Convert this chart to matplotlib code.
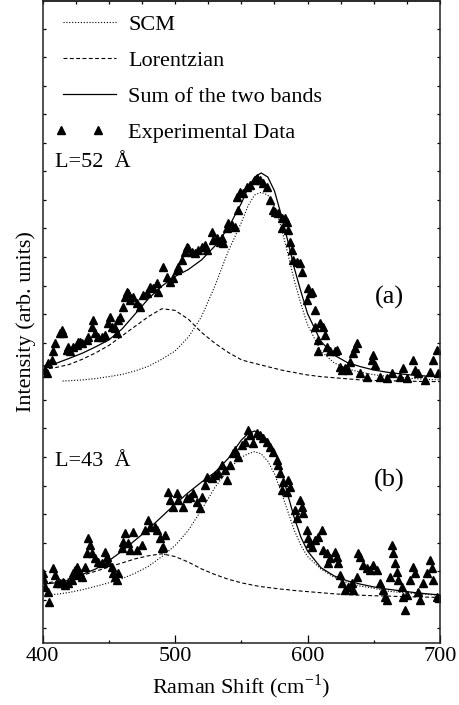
import numpy as np
import matplotlib
matplotlib.use('Agg')
import matplotlib.pyplot as plt
from matplotlib.legend_handler import HandlerLine2D

# Raman spectra of the two samples, fitted with SCM band + Lorentzian band
# spectrum (a) is offset upwards, (b) sits near the bottom

# x grid of the fitted curves (cm-1)
fit_x = [400, 410, 420, 430, 440, 450, 460, 470, 480, 490, 500, 510, 520, 530, 540, 550,
         555, 560, 565, 570, 575, 580, 585, 590, 595, 600,
         610, 620, 630, 640, 650, 660, 670, 680, 690, 700]

# ---- L=52 A ----
sum_a = [10.5, 10.6, 10.78, 10.97, 11.2, 11.45, 11.85, 12.4, 12.95, 13.4, 13.75, 14.0, 14.35, 14.85, 15.5, 16.4,
         16.95, 17.35, 17.5, 17.35, 16.85, 16.0, 15.05, 14.05, 13.2, 12.4,
         11.4, 10.9, 10.63, 10.48, 10.36, 10.28, 10.22, 10.17, 10.14, 10.12]
lor_a = [10.38, 10.45, 10.56, 10.75, 10.98, 11.25, 11.6, 11.95, 12.3, 12.58, 12.52, 12.2, 11.72, 11.33, 11.0, 10.73,
         10.66, 10.6, 10.54, 10.48, 10.42, 10.36, 10.31, 10.27, 10.22, 10.18,
         10.12, 10.08, 10.04, 10.0, 9.98, 9.97, 9.96, 9.95, 9.94, 9.94]
# SCM band of (a) starts a bit after 400
scm_a_x = [415] + fit_x[2:]
scm_a = [9.96, 9.97, 10.0, 10.05, 10.12, 10.2, 10.33, 10.5, 10.75, 11.05, 11.55, 12.3, 13.4, 14.65, 15.7,
         16.3, 16.7, 16.8, 16.7, 16.3, 15.55, 14.6, 13.6, 12.75, 12.0,
         11.05, 10.62, 10.4, 10.28, 10.19, 10.13, 10.09, 10.05, 10.02, 10.0]

exp_a_x = [401.7, 403.0, 404.3, 406.8, 408.0, 409.3, 413.1, 414.3, 415.6, 418.1, 419.4, 420.6, 423.1, 425.6,
           426.9, 428.2, 429.4, 433.2, 434.5, 437.0, 438.2, 439.5, 442.0, 444.5, 447.0, 449.6, 450.8, 452.1,
           454.6, 455.9, 457.1, 458.4, 460.9, 462.1, 463.4, 464.7, 465.9, 468.4, 471.0, 473.5, 476.0, 478.5,
           481.0, 483.5, 486.1, 487.3, 491.1, 493.6, 496.1, 498.6, 501.2, 502.4, 504.9, 507.4, 508.7, 510.0,
           512.5, 515.0, 517.5, 520.0, 522.6, 523.8, 527.6, 528.8, 531.4, 533.9, 535.1, 536.4, 538.9, 540.2,
           542.7, 545.2, 546.5, 547.7, 549.0, 551.5, 554.0, 556.5, 560.3, 561.6, 564.1, 566.6, 569.1, 571.6,
           574.2, 575.4, 577.9, 580.4, 583.0, 584.2, 580.4, 585.5, 586.7, 588.0, 589.3, 591.8, 594.3, 595.5,
           600.6, 601.8, 599.3, 603.1, 605.6, 605.6, 609.4, 611.9, 613.2, 608.1, 614.4, 608.1, 616.9, 620.7,
           622.0, 624.5, 625.7, 628.3, 630.8, 632.0, 634.6, 635.8, 637.1, 639.6, 644.6, 648.4, 649.7, 650.9,
           654.7, 659.7, 663.5, 669.8, 672.3, 674.8, 679.9, 681.1, 683.6, 688.7, 692.5, 695.0, 697.5, 698.7]
exp_a_y = [10.36, 10.24, 10.6, 10.72, 11.03, 11.33, 11.69, 11.81, 11.69, 11.09, 11.21, 11.03, 11.21, 11.27,
           11.39, 11.39, 11.33, 11.45, 11.57, 11.93, 12.17, 11.69, 11.57, 11.57, 11.63, 12.05, 12.29, 11.93,
           11.87, 11.69, 12.17, 12.29, 12.66, 13.02, 13.2, 13.14, 12.9, 13.02, 12.78, 12.66, 13.08, 13.14,
           13.38, 13.32, 13.5, 13.2, 14.1, 13.74, 13.56, 13.68, 13.98, 14.1, 14.35, 14.65, 14.83, 14.77,
           14.65, 14.59, 14.71, 14.83, 14.89, 14.71, 15.37, 15.07, 15.13, 15.01, 15.13, 14.95, 15.49, 15.67,
           15.61, 15.55, 16.64, 16.16, 16.82, 16.76, 17.0, 17.06, 17.25, 17.31, 17.25, 17.12, 17.0, 16.52,
           16.16, 16.1, 16.04, 15.86, 15.86, 15.74, 15.49, 15.43, 15.01, 14.71, 14.35, 14.29, 14.23, 13.92,
           13.32, 13.14, 12.9, 13.2, 12.54, 11.93, 12.05, 11.93, 11.63, 11.45, 11.21, 11.03, 11.03, 11.03,
           11.09, 10.48, 10.36, 10.42, 10.36, 10.66, 10.97, 11.15, 11.33, 10.24, 10.12, 10.72, 10.9, 10.54,
           10.12, 10.06, 10.24, 10.12, 10.42, 10.06, 10.72, 10.36, 10.24, 10.0, 10.3, 10.72, 11.09, 10.24]

# ---- L=43 A ----
sum_b = [2.6, 2.65, 2.75, 2.95, 3.15, 3.45, 3.8, 4.2, 4.6, 5.05, 5.5, 5.92, 6.3, 6.65, 7.15, 7.82,
         8.05, 8.15, 8.05, 7.8, 7.45, 6.75, 5.85, 5.0, 4.3, 3.8,
         3.2, 2.9, 2.72, 2.6, 2.5, 2.42, 2.36, 2.3, 2.25, 2.21]
lor_b = [2.62, 2.7, 2.8, 2.92, 3.07, 3.22, 3.37, 3.52, 3.63, 3.7, 3.6, 3.4, 3.15, 2.95, 2.78, 2.65,
         2.6, 2.55, 2.51, 2.48, 2.45, 2.42, 2.4, 2.37, 2.35, 2.33,
         2.29, 2.25, 2.22, 2.2, 2.18, 2.17, 2.15, 2.14, 2.13, 2.12]
scm_b = [2.25, 2.23, 2.3, 2.4, 2.52, 2.65, 2.8, 3.0, 3.25, 3.6, 4.0, 4.55, 5.3, 6.1, 6.75, 7.2,
         7.32, 7.4, 7.32, 7.05, 6.6, 5.95, 5.25, 4.55, 4.0, 3.6,
         3.15, 2.85, 2.65, 2.53, 2.45, 2.35, 2.3, 2.26, 2.23, 2.2]

exp_b_x = [400.5, 400.5, 401.7, 404.3, 405.0, 408.0, 409.3, 410.5, 413.1, 415.6, 416.8, 419.4, 421.9, 423.1,
           424.4, 425.6, 426.9, 428.2, 429.4, 432.0, 433.2, 434.5, 435.7, 437.0, 439.5, 442.0, 444.5, 447.0,
           448.3, 449.6, 452.1, 453.3, 454.6, 455.9, 457.1, 459.6, 460.9, 462.1, 464.7, 465.9,
           468.4, 470.9, 474.7, 477.3, 479.8, 481.0, 484.8, 486.1, 488.6, 489.8, 491.1, 492.3, 494.9, 496.1,
           498.6, 501.2, 502.4, 506.2, 508.7, 511.2, 513.7, 516.3, 518.8, 520.0, 522.6, 523.8, 527.6, 530.1,
           532.6, 535.1, 537.7, 538.9, 541.4, 543.9, 545.2, 547.7, 550.2, 552.8, 555.3, 556.5, 559.1, 561.6,
           564.1, 566.6, 569.1, 571.6, 574.1, 576.7, 577.9, 579.2, 581.7, 580.4, 584.2, 585.5, 586.7, 590.5,
           591.8, 594.3, 595.5, 596.8, 599.3, 600.6, 601.8, 603.1, 605.6, 608.1, 610.6, 611.9, 614.4, 615.7,
           617.0, 620.7, 622.0, 623.2, 624.5, 625.7, 628.3, 630.8, 633.3, 634.6, 637.1, 638.3, 639.6, 642.1,
           644.6, 647.1, 649.7, 652.2, 654.7, 657.2, 658.5, 659.7, 662.2, 663.5, 664.8, 666.0, 667.3, 668.5,
           671.1, 672.3, 673.6, 674.8, 677.3, 679.9, 681.1, 683.6, 684.9, 687.4, 689.9, 692.4, 693.7, 695.0,
           697.5, 699.5]
exp_b_y = [2.99, 2.81, 2.51, 2.33, 1.97, 3.17, 2.93, 2.63, 2.63, 2.69, 2.57, 2.63, 2.75, 2.99,
           3.11, 3.23, 2.93, 2.99, 2.87, 3.23, 3.72, 4.26, 4.02, 3.72, 3.54, 3.42, 3.35, 3.78,
           3.6, 3.42, 3.23, 2.99, 2.87, 2.75, 2.99, 3.9, 4.14, 4.44, 4.08, 3.84,
           4.5, 3.84, 4.02, 4.56, 4.92, 4.68, 4.68, 4.56, 4.26, 3.9, 3.96, 4.38, 5.95, 5.65,
           5.41, 5.89, 5.65, 5.41, 5.71, 5.77, 5.89, 5.59, 5.35, 5.77, 6.19, 6.5, 6.43, 6.55,
           6.61, 6.92, 6.74, 6.37, 6.92, 7.34, 7.46, 7.22, 7.64, 7.76, 8.18, 8.0, 7.7, 8.06,
           8.0, 7.88, 7.76, 7.58, 7.4, 7.1, 6.92, 6.62, 6.31, 6.01, 5.95, 6.37, 6.13, 5.29,
           4.98, 5.65, 5.41, 5.17, 4.56, 4.26, 4.08, 3.96, 4.2, 4.32, 4.56, 3.84, 3.72, 3.35,
           3.54, 3.78, 3.6, 3.35, 2.93, 2.63, 2.39, 2.51, 2.63, 2.39, 2.87, 3.72, 3.6, 3.29,
           3.17, 3.11, 3.29, 3.11, 2.63, 2.39, 2.15, 2.03, 2.87, 4.02, 3.72, 3.35, 3.05, 2.75,
           2.51, 2.15, 1.66, 2.21, 2.75, 3.23, 2.99, 2.33, 2.03, 2.63, 2.99, 3.47, 3.17, 2.75,
           2.15, 2.09]


class TwoMarkers(HandlerLine2D):
    # the two legend triangles sit near the left and in the middle of the handle
    def get_xdata(self, legend, xdescent, ydescent, width, height, fontsize):
        xmark = -xdescent + width * np.array([0.075, 0.63])
        return xmark, xmark


plt.rcParams['font.family'] = ['Liberation Serif', 'DejaVu Serif']
plt.rcParams['mathtext.fontset'] = 'stix'

fig = plt.figure(figsize=(4.6, 7.05), dpi=100)
ax = fig.add_axes([0.0928, 0.0879, 0.8637, 0.9107])

dot = (0, (1, 1.6))
dash = (0, (3.5, 2.2))
ms = 6

ax.plot(scm_a_x, scm_a, color='k', lw=0.8, ls=dot, label='SCM')
ax.plot(fit_x, lor_a, color='k', lw=0.8, ls=dash, label='Lorentzian')
ax.plot(fit_x, sum_a, color='k', lw=0.9, label='Sum of the two bands')
exp_line, = ax.plot(exp_a_x, exp_a_y, 'k^', ms=ms, ls='none', label='Experimental Data')

ax.plot(fit_x, scm_b, color='k', lw=0.8, ls=dot)
ax.plot(fit_x, lor_b, color='k', lw=0.8, ls=dash)
ax.plot(fit_x, sum_b, color='k', lw=0.9)
ax.plot(exp_b_x, exp_b_y, 'k^', ms=ms, ls='none')

ax.set_xlim(400, 700)
ax.set_ylim(0.467, 23.73)

ax.text(409, 17.86, 'L=52  Å', fontsize=16, va='center')
ax.text(662, 13.0, '(a)', fontsize=19, va='center', ha='center')
ax.text(409, 7.06, 'L=43  Å', fontsize=16, va='center')
ax.text(662, 6.37, '(b)', fontsize=19, va='center', ha='center')

ax.legend(loc='upper left', bbox_to_anchor=(0.0, 1.0), frameon=False, fontsize=16,
          handlelength=3.0, handletextpad=0.25, labelspacing=0.7, numpoints=2,
          borderaxespad=0.2, handler_map={exp_line: TwoMarkers()})

ax.set_xlabel('Raman Shift (cm$^{\\mathregular{-1}}$)', fontsize=16, labelpad=5)
ax.set_ylabel('Intensity (arb. units)', fontsize=16, labelpad=5)

ax.set_xticks([400, 500, 600, 700])
ax.set_xticks([450, 550, 650], minor=True)
ax.tick_params(axis='x', which='major', direction='in', length=5.5, width=0.9, top=False, labelsize=16, pad=3)
ax.tick_params(axis='x', which='minor', direction='in', length=2.5, width=0.9, top=False)
ax.set_yticks(1 + 1.0348 * np.arange(22))
ax.tick_params(axis='y', direction='in', length=2, width=0.9, left=True, right=True, labelleft=False)

# top edge has its own finer ticks
top = ax.secondary_xaxis('top')
top.set_xticks(np.arange(400, 701, 25))
top.tick_params(direction='in', length=2.5, width=0.9, labeltop=False)

for s in list(ax.spines.values()) + list(top.spines.values()):
    s.set_linewidth(1.1)
    s.set_color('#222222')

fig.savefig('out.png', dpi=100)
